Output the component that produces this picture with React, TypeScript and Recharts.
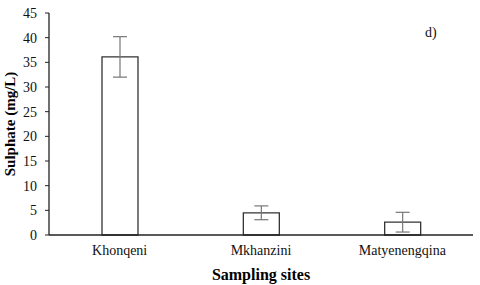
import React from 'react';
import { BarChart, Bar, XAxis, YAxis, ErrorBar, Label } from 'recharts';

const sites = ['Khonqeni', 'Mkhanzini', 'Matyenengqina'];
const sulphate = [36.1, 4.5, 2.6];
const sulphateErr = [4.1, 1.4, 2.0];
const yTicks = [0, 5, 10, 15, 20, 25, 30, 35, 40, 45];

const data = sites.map((site, i) => ({ site, value: sulphate[i], err: sulphateErr[i] }));

const FONT = "'Liberation Serif', 'Times New Roman', serif";

export default function App() {
  return (
    <div style={{ position: 'absolute', left: 0, top: 0, width: 480, height: 285, background: '#fff', fontFamily: FONT }}>
      <style>{`.chart svg text { font-family: ${FONT} !important; }`}</style>
      <div className="chart">
        <BarChart width={480} height={285} data={data} margin={{ top: 13, right: 7, left: 0, bottom: 0 }}>
          <XAxis
            dataKey="site"
            height={50}
            tickLine={false}
            axisLine={{ stroke: '#222', strokeWidth: 1.3 }}
            tick={{ fill: '#111', fontSize: 14 }}
            dy={2}
          >
            <Label
              value="Sampling sites"
              position="insideBottom"
              offset={5}
              style={{ fill: '#000', fontSize: 16, fontWeight: 'bold' }}
            />
          </XAxis>
          <YAxis
            width={49}
            domain={[0, 45]}
            ticks={yTicks}
            interval={0}
            tickSize={4}
            tickMargin={8}
            tickLine={{ stroke: '#222' }}
            axisLine={{ stroke: '#222', strokeWidth: 1.3 }}
            tick={{ fill: '#111', fontSize: 14 }}
          >
            <Label
              value="Sulphate (mg/L)"
              angle={-90}
              position="insideLeft"
              offset={10}
              style={{ textAnchor: 'middle', fill: '#000', fontSize: 15, fontWeight: 'bold' }}
            />
          </YAxis>
          <Bar dataKey="value" fill="#fff" stroke="#333" strokeWidth={1.3} barSize={36} isAnimationActive={false}>
            <ErrorBar dataKey="err" width={7} stroke="#777" strokeWidth={1.2} direction="y" />
          </Bar>
        </BarChart>
      </div>
      <div style={{ position: 'absolute', left: 425, top: 25, fontSize: 14, color: '#111' }}>d)</div>
    </div>
  );
}
